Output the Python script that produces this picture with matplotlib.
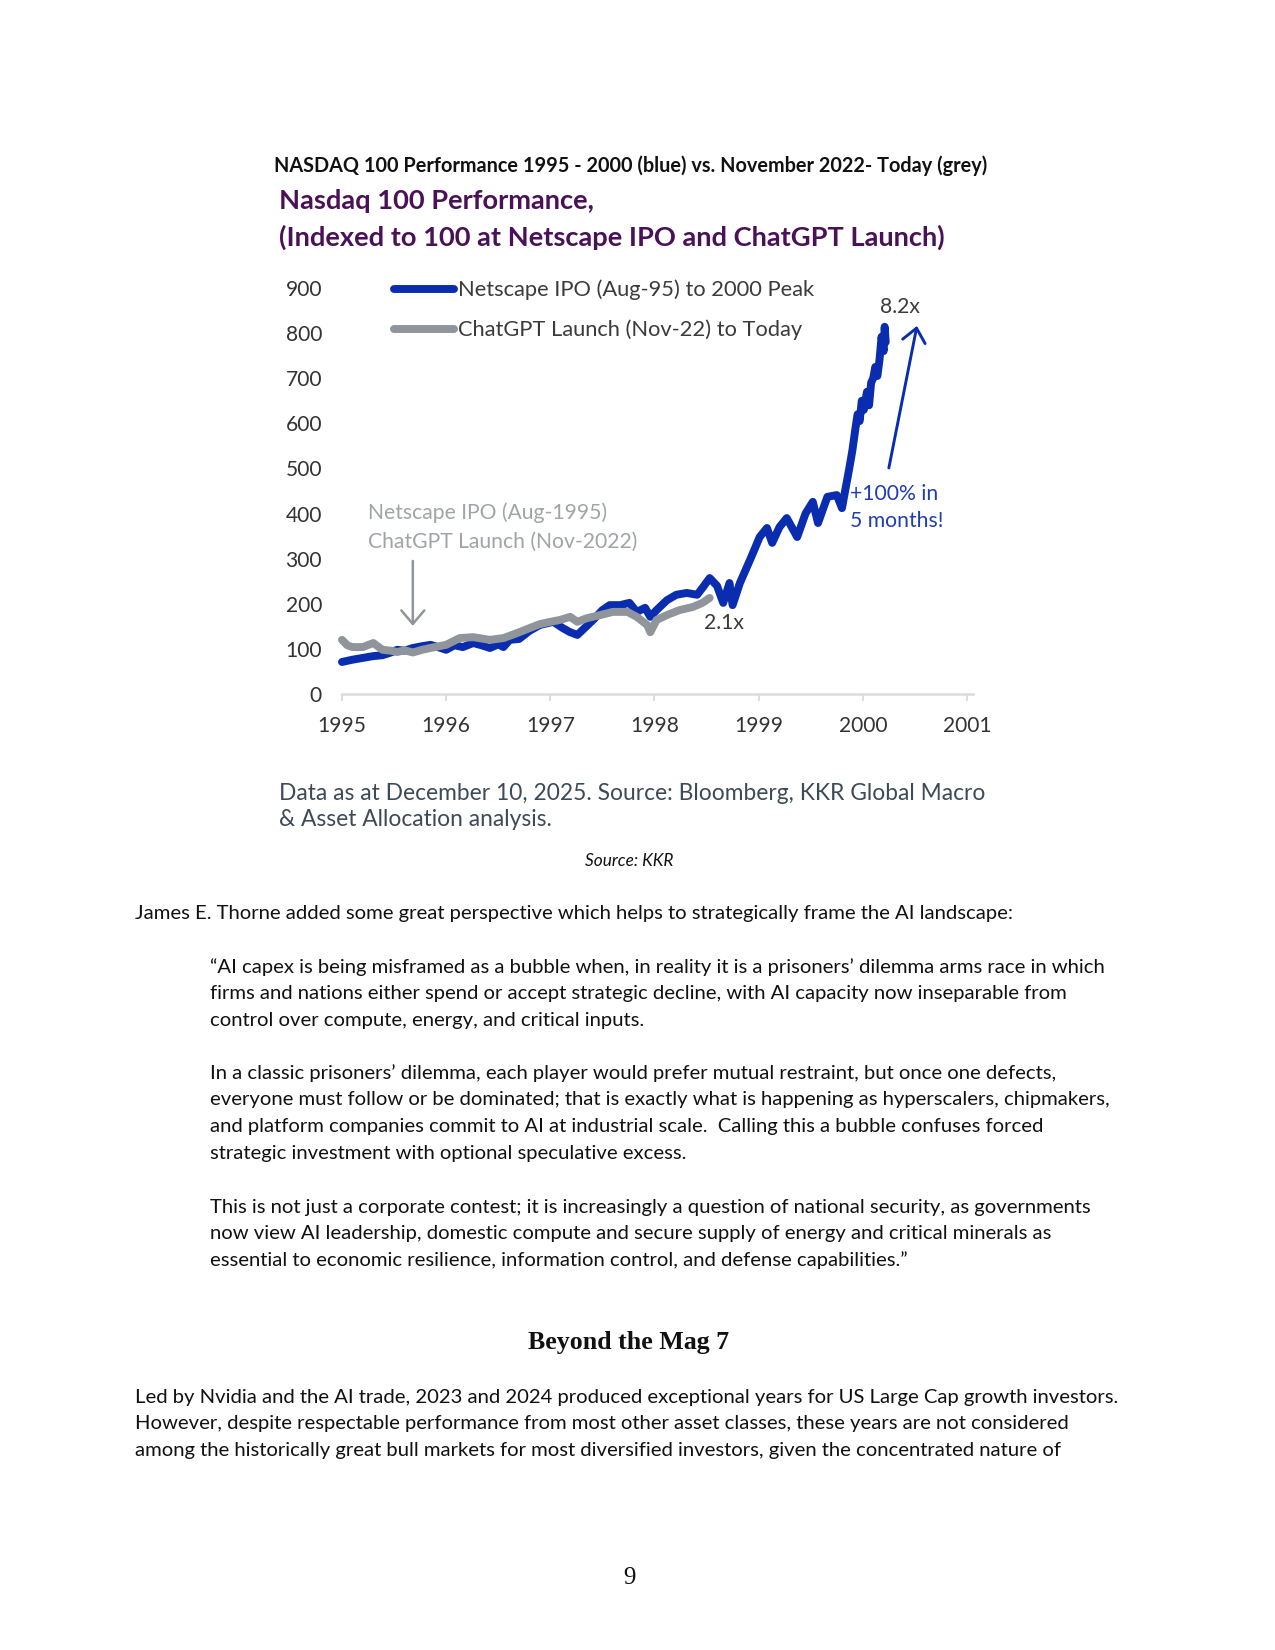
import matplotlib
matplotlib.use('Agg')
import matplotlib.pyplot as plt

# ---- chart data ----
blue_x = [1995.0, 1995.1, 1995.2, 1995.3, 1995.39, 1995.47, 1995.53, 1995.6, 1995.68, 1995.77,
          1995.85, 1995.92, 1996.0, 1996.08, 1996.16, 1996.26, 1996.34, 1996.42, 1996.5, 1996.55,
          1996.61, 1996.7, 1996.8, 1996.9, 1997.03, 1997.12, 1997.19, 1997.26, 1997.31, 1997.41,
          1997.5, 1997.57, 1997.67, 1997.76, 1997.83, 1997.91, 1997.96, 1998.02, 1998.12, 1998.21,
          1998.31, 1998.41, 1998.46, 1998.53, 1998.6, 1998.66, 1998.72, 1998.75, 1998.82, 1998.93,
          1999.01, 1999.08, 1999.13, 1999.2, 1999.27, 1999.37, 1999.45, 1999.52, 1999.57, 1999.66,
          1999.75, 1999.8, 1999.83, 1999.87, 1999.9, 1999.93, 1999.95, 1999.97, 1999.99, 2000.01,
          2000.04, 2000.06, 2000.08, 2000.1, 2000.12, 2000.14, 2000.16, 2000.18, 2000.2, 2000.21,
          2000.22]
blue_y = [71, 76, 80, 84, 86, 92, 98, 96, 102, 106,
          109, 104, 98, 108, 104, 113, 108, 102, 110, 104,
          120, 122, 140, 153, 160, 146, 137, 131, 142, 164,
          186, 197, 197, 202, 182, 191, 171, 186, 208, 220,
          224, 220, 235, 257, 240, 202, 246, 197, 246, 304,
          348, 368, 335, 370, 390, 348, 400, 426, 379, 437,
          441, 412, 450, 500, 540, 590, 620, 605, 650, 630,
          670, 640, 690, 700, 725, 705, 740, 792, 760, 814,
          780]

grey_x = [1995.0, 1995.05, 1995.1, 1995.2, 1995.3, 1995.39, 1995.47, 1995.53, 1995.6, 1995.68,
          1995.77, 1995.85, 1996.0, 1996.13, 1996.26, 1996.42, 1996.55, 1996.68, 1996.8, 1996.9,
          1997.0, 1997.09, 1997.19, 1997.26, 1997.35, 1997.48, 1997.6, 1997.74, 1997.83, 1997.93,
          1997.96, 1998.02, 1998.12, 1998.24, 1998.37, 1998.46, 1998.53]
grey_y = [120, 108, 104, 104, 113, 98, 96, 93, 97, 92,
          98, 102, 109, 124, 126, 120, 124, 135, 146, 155,
          160, 164, 171, 160, 168, 175, 182, 182, 171, 153,
          137, 164, 175, 186, 193, 202, 213]

year_ticks = [1995, 1996, 1997, 1998, 1999, 2000, 2001]
value_ticks = [0, 100, 200, 300, 400, 500, 600, 700, 800, 900]
legend_labels = ['Netscape IPO (Aug-95) to 2000 Peak', 'ChatGPT Launch (Nov-22) to Today']

# ---- page text ----
header = 'NASDAQ 100 Performance 1995 - 2000 (blue) vs. November 2022- Today (grey)'
chart_title = ['Nasdaq 100 Performance,', '(Indexed to 100 at Netscape IPO and ChatGPT Launch)']
chart_note = ['Data as at December 10, 2025. Source: Bloomberg, KKR Global Macro',
              '& Asset Allocation analysis.']
intro = 'James E. Thorne added some great perspective which helps to strategically frame the AI landscape:'
quote = [
    ['\u201cAI capex is being misframed as a bubble when, in reality it is a prisoners\u2019 dilemma arms race in which',
     'firms and nations either spend or accept strategic decline, with AI capacity now inseparable from',
     'control over compute, energy, and critical inputs.'],
    ['In a classic prisoners\u2019 dilemma, each player would prefer mutual restraint, but once one defects,',
     'everyone must follow or be dominated; that is exactly what is happening as hyperscalers, chipmakers,',
     'and platform companies commit to AI at industrial scale.  Calling this a bubble confuses forced',
     'strategic investment with optional speculative excess.'],
    ['This is not just a corporate contest; it is increasingly a question of national security, as governments',
     'now view AI leadership, domestic compute and secure supply of energy and critical minerals as',
     'essential to economic resilience, information control, and defense capabilities.\u201d'],
]
section = 'Beyond the Mag 7'
closing = ['Led by Nvidia and the AI trade, 2023 and 2024 produced exceptional years for US Large Cap growth investors.',
           'However, despite respectable performance from most other asset classes, these years are not considered',
           'among the historically great bull markets for most diversified investors, given the concentrated nature of']

BODY = ['Lato', 'DejaVu Sans']
CHART = ['Lato', 'DejaVu Sans']
SERIF = ['Liberation Serif', 'DejaVu Serif']
BLUE = '#0a2db0'
GREY = '#8f959a'
DPI = 150
LH = 26.7  # body line height in px

fig = plt.figure(figsize=(8.5, 11), dpi=DPI)
fig.patch.set_facecolor('white')

# page layer in pixel coords
page = fig.add_axes([0, 0, 1, 1])
page.set_xlim(0, 1275)
page.set_ylim(1650, 0)
page.axis('off')
page.patch.set_alpha(0)
renderer = fig.canvas.get_renderer()


def fit(text, width, family, weight='normal', style='normal'):
    # font size (pt) that makes text span the given pixel width
    t = page.text(0, 0, text, fontsize=10, family=family, weight=weight, style=style)
    w = t.get_window_extent(renderer=renderer).width
    t.remove()
    return 10 * width / w


# header + chart title
fs = fit(header, 713, BODY, weight='bold')
page.text(274, 166, header, fontsize=fs, family=BODY, weight='bold', va='center', color='#111111')
fs = fit(chart_title[1], 668, CHART, weight='bold')
page.text(279, 201, chart_title[0], fontsize=fs, family=CHART, weight='bold', va='center', color='#4a1158')
page.text(279, 237, chart_title[1], fontsize=fs, family=CHART, weight='bold', va='center', color='#4a1158')

# ---- the chart ----
ax = fig.add_axes([342 / 1275, 1 - 694 / 1650, (973 - 342) / 1275, (694 - 288) / 1650])
ax.patch.set_alpha(0)
line_b, = ax.plot(blue_x, blue_y, color=BLUE, lw=3.8, solid_capstyle='round', solid_joinstyle='round',
                  clip_on=False, zorder=3)
line_g, = ax.plot(grey_x, grey_y, color=GREY, lw=3.8, solid_capstyle='round', solid_joinstyle='round',
                  clip_on=False, zorder=4)
ax.set_xlim(1995, 2001.058)
ax.set_ylim(0, 900)
ax.set_xticks(year_ticks)
ax.set_yticks(value_ticks)
for s in ['top', 'right', 'left']:
    ax.spines[s].set_visible(False)
ax.spines['bottom'].set_color('#dcdcdc')
ax.spines['bottom'].set_linewidth(1.2)

tick_fs = fit('1995', 49, CHART)
ax.tick_params(axis='y', length=0, pad=9.6, labelsize=tick_fs, labelcolor='#333333')
ax.tick_params(axis='x', length=3.4, width=1.0, color='#dcdcdc', pad=7, labelsize=tick_fs,
               labelcolor='#333333')
for lab in ax.get_xticklabels() + ax.get_yticklabels():
    lab.set_family(CHART)

leg_fs = fit(legend_labels[0], 358, CHART)
fs_px = leg_fs * DPI / 72
ax.legend([line_b, line_g], legend_labels, loc='upper left', bbox_to_anchor=(394, 293 - 0.6 * fs_px),
          bbox_transform=page.transData, frameon=False, borderpad=0, borderaxespad=0,
          handlelength=60 / fs_px, handletextpad=4 / fs_px, labelspacing=(45.5 - 1.2 * fs_px) / fs_px,
          prop={'family': CHART, 'size': leg_fs}, labelcolor='#3b3b3b')

# annotations
ann_fs = fit('Netscape IPO (Aug-1995)', 240, CHART)
ax.text(1995.25, 370, 'Netscape IPO (Aug-1995)\nChatGPT Launch (Nov-2022)', fontsize=ann_fs, family=CHART,
        color='#a0a4a8', va='center', linespacing=1.5)
ax.annotate('', xy=(1995.68, 151), xytext=(1995.68, 295),
            arrowprops=dict(arrowstyle='->,head_length=0.65,head_width=0.55', color=GREY, lw=1.2,
                            mutation_scale=10, shrinkA=0, shrinkB=0))
ax.text(1998.666, 158, '2.1x', fontsize=ann_fs, family=CHART, color='#3b3b3b', ha='center', va='center')
ax.text(2000.355, 857, '8.2x', fontsize=ann_fs, family=CHART, color='#3b3b3b', ha='center', va='center')
ax.annotate('', xy=(2000.52, 816), xytext=(2000.25, 501),
            arrowprops=dict(arrowstyle='->,head_length=0.65,head_width=0.55', color=BLUE, lw=1.4,
                            mutation_scale=10, shrinkA=0, shrinkB=0))
ax.text(1999.875, 413, '+100% in\n5 months!', fontsize=ann_fs, family=CHART, color='#1f3cb5',
        va='center', linespacing=1.45)

fs = fit(chart_note[0], 704, CHART)
page.text(279, 793, chart_note[0], fontsize=fs, family=CHART, va='center', color='#3d4a57')
page.text(279, 819, chart_note[1], fontsize=fs, family=CHART, va='center', color='#3d4a57')

# ---- document text below ----
fs = fit('Source: KKR', 89, BODY, style='italic')
page.text(629, 861, 'Source: KKR', fontsize=fs, family=BODY, style='italic', ha='center', va='center',
          color='#111111')

body_fs = fit(intro, 883, BODY)
page.text(135, 913, intro, fontsize=body_fs, family=BODY, va='center', color='#111111')
para_top = [967, 1073, 1207]
for top, para in zip(para_top, quote):
    for i, line in enumerate(para):
        page.text(210, top + i * LH, line, fontsize=body_fs, family=BODY, va='center', color='#111111')

fs = fit(section, 201, SERIF, weight='bold')
page.text(629, 1342, section, fontsize=fs, family=SERIF, weight='bold', ha='center', va='center',
          color='#111111')
for i, line in enumerate(closing):
    page.text(135, 1397 + i * LH, line, fontsize=body_fs, family=BODY, va='center', color='#111111')

page.text(629, 1578, '9', fontsize=12, family=SERIF, ha='center', va='center', color='#111111')

fig.savefig('out.png', dpi=DPI)
